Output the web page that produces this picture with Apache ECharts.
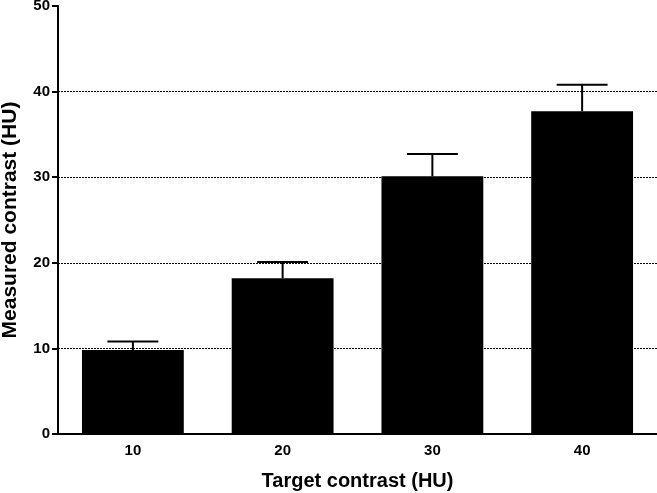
<!DOCTYPE html>
<html><head><meta charset="utf-8">
<script src="https://cdn.jsdelivr.net/npm/echarts@6/dist/echarts.min.js"></script>
<style>html,body{margin:0;padding:0;background:#fff}#c{width:657px;height:493px}</style>
</head><body><div id="c"></div>
<script>
var categories = ['10', '20', '30', '40'];
var means = [9.8, 18.2, 30.1, 37.7];
var errTops = [10.8, 20.1, 32.7, 40.8];
var yTicks = [0, 10, 20, 30, 40, 50];

var chart = echarts.init(document.getElementById('c'));
var font = '"Liberation Sans", Arial, Helvetica, sans-serif';
chart.setOption({
  animation: false,
  grid: {left: 58, right: 0, top: 6, bottom: 59, containLabel: false, outerBoundsMode: 'none'},
  xAxis: {
    type: 'category', data: categories,
    name: 'Target contrast (HU)', nameLocation: 'middle', nameGap: 37,
    nameTextStyle: {fontFamily: font, fontWeight: 'bold', fontSize: 20, color: '#000'},
    axisLine: {lineStyle: {color: '#000', width: 2}},
    axisTick: {alignWithLabel: true, length: 6, lineStyle: {color: '#000', width: 2}},
    axisLabel: {fontFamily: font, fontWeight: 'bold', fontSize: 15, color: '#000', margin: 9}
  },
  yAxis: {
    type: 'value', min: 0, max: 50, interval: 10,
    name: 'Measured contrast (HU)', nameLocation: 'middle', nameGap: 37,
    nameTextStyle: {fontFamily: font, fontWeight: 'bold', fontSize: 21, color: '#000'},
    axisLine: {show: true, lineStyle: {color: '#000', width: 2}},
    axisTick: {show: true, length: 6, lineStyle: {color: '#000', width: 2}},
    axisLabel: {fontFamily: font, fontWeight: 'bold', fontSize: 15, color: '#000', margin: 8,
      formatter: function (v) { return yTicks.indexOf(v) >= 0 ? String(v) : ''; }},
    splitLine: {show: true, showMinLine: false, showMaxLine: false,
      lineStyle: {color: '#000', width: 1, type: [2, 1]}}
  },
  series: [{
    type: 'bar', data: means, barWidth: '68%', z: 3,
    itemStyle: {color: '#000'}
  }, {
    type: 'custom', z: 4,
    data: categories.map(function (c, i) { return [i, means[i], errTops[i]]; }),
    renderItem: function (params, api) {
      var base = api.coord([api.value(0), api.value(1)]);
      var top = api.coord([api.value(0), api.value(2)]);
      var half = api.size([1, 0])[0] * 0.17;
      return {type: 'group', children: [
        {type: 'line', shape: {x1: base[0], y1: base[1], x2: top[0], y2: top[1]},
          style: {stroke: '#000', lineWidth: 2}},
        {type: 'line', shape: {x1: top[0] - half, y1: top[1], x2: top[0] + half, y2: top[1]},
          style: {stroke: '#000', lineWidth: 2}}
      ]};
    }
  }]
});
</script></body></html>
